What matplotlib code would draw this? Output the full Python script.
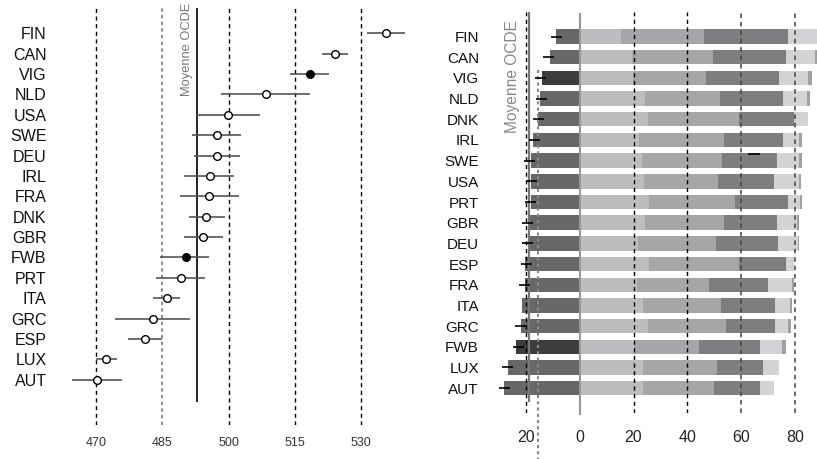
import numpy as np
import matplotlib.pyplot as plt

plt.rcParams['font.family'] = ['Liberation Sans', 'DejaVu Sans']

# --- panneau gauche : scores moyens et intervalles ---
pays_g = ['FIN', 'CAN', 'VIG', 'NLD', 'USA', 'SWE', 'DEU', 'IRL', 'FRA',
          'DNK', 'GBR', 'FWB', 'PRT', 'ITA', 'GRC', 'ESP', 'LUX', 'AUT']
score = [535.6, 524.0, 518.4, 508.4, 499.8, 497.5, 497.4, 495.8, 495.7,
         495.0, 494.2, 490.3, 489.3, 486.2, 482.9, 481.2, 472.3, 470.4]
ic_bas = [531.3, 521.2, 514.0, 498.3, 492.7, 491.7, 492.3, 489.9, 489.1,
          491.0, 489.9, 484.5, 483.6, 483.0, 474.3, 477.2, 470.0, 464.6]
ic_haut = [539.9, 527.0, 522.8, 518.4, 507.0, 502.8, 502.5, 501.2, 502.4,
           499.1, 498.8, 495.7, 494.8, 489.1, 491.4, 485.0, 474.7, 475.9]
plein = ['VIG', 'FWB']
moy_ocde_g = 492.8
graduations_g = [470, 485, 500, 515, 530]

# --- panneau droit : repartition par niveaux (%) ---
pays_d = ['FIN', 'CAN', 'VIG', 'NLD', 'DNK', 'IRL', 'SWE', 'USA', 'PRT',
          'GBR', 'DEU', 'ESP', 'FRA', 'ITA', 'GRC', 'FWB', 'LUX', 'AUT']
sous_niv2 = [8.8, 11.0, 14.0, 14.7, 15.6, 17.3, 18.1, 18.1, 18.1,
             19.1, 18.8, 20.2, 20.2, 21.4, 21.8, 23.7, 26.6, 28.1]
niv2 = [15.4, 19.4, 19.8, 24.3, 25.4, 22.0, 23.2, 23.9, 25.8,
        24.3, 21.7, 25.8, 21.2, 23.5, 25.4, 20.2, 23.5, 23.5]
niv3 = [30.8, 30.1, 27.1, 27.8, 33.6, 31.6, 29.7, 27.5, 31.9,
        29.3, 29.0, 33.2, 26.9, 29.0, 29.0, 24.1, 27.5, 26.4]
niv4 = [31.2, 27.2, 27.2, 23.3, 20.6, 22.1, 20.4, 20.8, 19.7,
        19.7, 23.0, 17.7, 21.9, 20.1, 18.2, 22.7, 17.1, 17.1]
niv5 = [11.5, 10.7, 10.6, 8.9, 5.1, 5.8, 8.1, 9.4, 4.6,
        7.3, 7.3, 2.8, 8.9, 5.6, 4.8, 8.2, 6.0, 5.2]
niv6 = [0.8, 0.8, 1.6, 1.3, 0.0, 1.1, 1.2, 0.6, 0.4,
        0.9, 0.5, 0.0, 0.8, 0.7, 1.1, 1.5, 0.0, 0.0]
err_d = [-8.5, -11.6, -14.5, -14.1, -15.4, -16.7, -18.7, -17.8, -18.2,
         -19.3, -19.3, -19.7, -20.5, np.nan, -21.9, -22.7, -26.8, -27.9]
moy_ocde_d = -18.8
graduations_d = [-20, 0, 20, 40, 60, 80]

fig = plt.figure(figsize=(8.17, 4.59), dpi=100)

# ---------------- gauche ----------------
ax = fig.add_axes([55 / 817, 34 / 459, 355 / 817, 420 / 459])
yg = np.arange(len(pays_g))
ax.set_xlim(460.8, 541.0)
ax.set_ylim(19.22, -1.389)

for g in graduations_g:
    if g == 485:
        ax.axvline(g, color='#777777', ls=(0, (2, 2)), lw=1.2)
    else:
        ax.axvline(g, color='black', ls=(0, (3, 2.5)), lw=1.0)
ax.vlines(moy_ocde_g, -1.25, 18.1, color='black', lw=1.2)
ax.text(490.7, -1.49, 'Moyenne OCDE', rotation=90, ha='center', va='top',
        fontsize=9.3, color='#777777', clip_on=False)

ax.hlines(yg, ic_bas, ic_haut, color='#555555', lw=1.2, zorder=3)
for i, p in enumerate(pays_g):
    fc = 'black' if p in plein else 'white'
    ax.plot(score[i], yg[i], 'o', ms=5.5, mfc=fc, mec='black', mew=1.0, zorder=4)

ax.set_yticks(yg)
ax.set_yticklabels(pays_g, fontsize=11.5, color='#111111')
ax.set_xticks(graduations_g)
ax.set_xticklabels([str(g) for g in graduations_g], fontsize=9, color='#333333')
ax.tick_params(length=0)
ax.tick_params(axis='y', pad=6)
ax.tick_params(axis='x', pad=9)
for s in ax.spines.values():
    s.set_visible(False)

# ---------------- droite ----------------
ax2 = fig.add_axes([490 / 817, 46 / 459, 327 / 817, 401 / 459])
yd = np.arange(len(pays_d))
ax2.set_xlim(-33.3, 88.15)
ax2.set_ylim(18.2, -1.185)

h = 0.7
neg_col = ['#3c3c3c' if p in plein else '#68686b' for p in pays_d]
ax2.barh(yd, [-v for v in sous_niv2], height=h, color=neg_col, zorder=2)
couleurs = ['#bdbdbf', '#a6a6a8', '#7e7e80', '#d3d3d5', '#a0a0a2']
gauche = np.zeros(len(pays_d))
for niv, c in zip([niv2, niv3, niv4, niv5, niv6], couleurs):
    ax2.barh(yd, niv, left=gauche, height=h, color=c, zorder=2)
    gauche = gauche + np.array(niv)

ax2.axvline(-20.1, color='black', ls=(0, (3, 2.5)), lw=1.0, zorder=3)
ax2.vlines(moy_ocde_d, -1.2, 17.65, color='#777777', lw=1.6, zorder=3)
ax2.vlines(-15.4, 1.62, 20.4, color='#888888', ls=(0, (1.5, 1.5)), lw=1.5,
           zorder=3, clip_on=False)
ax2.vlines(0, -1.14, 18.3, color='#999999', lw=1.5, zorder=3, clip_on=False)
for g in [20, 40]:
    ax2.axvline(g, color='black', ls=(0, (3, 2.5)), lw=1.0, zorder=3)
for g in [60, 80]:
    ax2.axvline(g, color='#444444', ls=(0, (3, 2.5)), lw=1.1, zorder=3)

for i, e in enumerate(err_d):
    if not np.isnan(e):
        ax2.hlines(yd[i], e - 2.1, e + 2.1, color='black', lw=1.2, zorder=4)
ax2.hlines(6 - 0.3, 62.7, 66.9, color='black', lw=1.2, zorder=4)

ax2.text(-25.0, -0.8, 'Moyenne OCDE', rotation=90, ha='center', va='top',
         fontsize=11.2, color='#888888', clip_on=False)

ax2.set_yticks(yd)
ax2.set_yticklabels(pays_d, fontsize=11, color='#111111')
ax2.set_xticks(graduations_d)
ax2.set_xticklabels([str(abs(g)) for g in graduations_d], fontsize=11.5,
                    color='#222222')
ax2.tick_params(length=0)
ax2.tick_params(axis='y', pad=8)
ax2.tick_params(axis='x', pad=12)
for s in ax2.spines.values():
    s.set_visible(False)

fig.savefig('out.png', dpi=100)
